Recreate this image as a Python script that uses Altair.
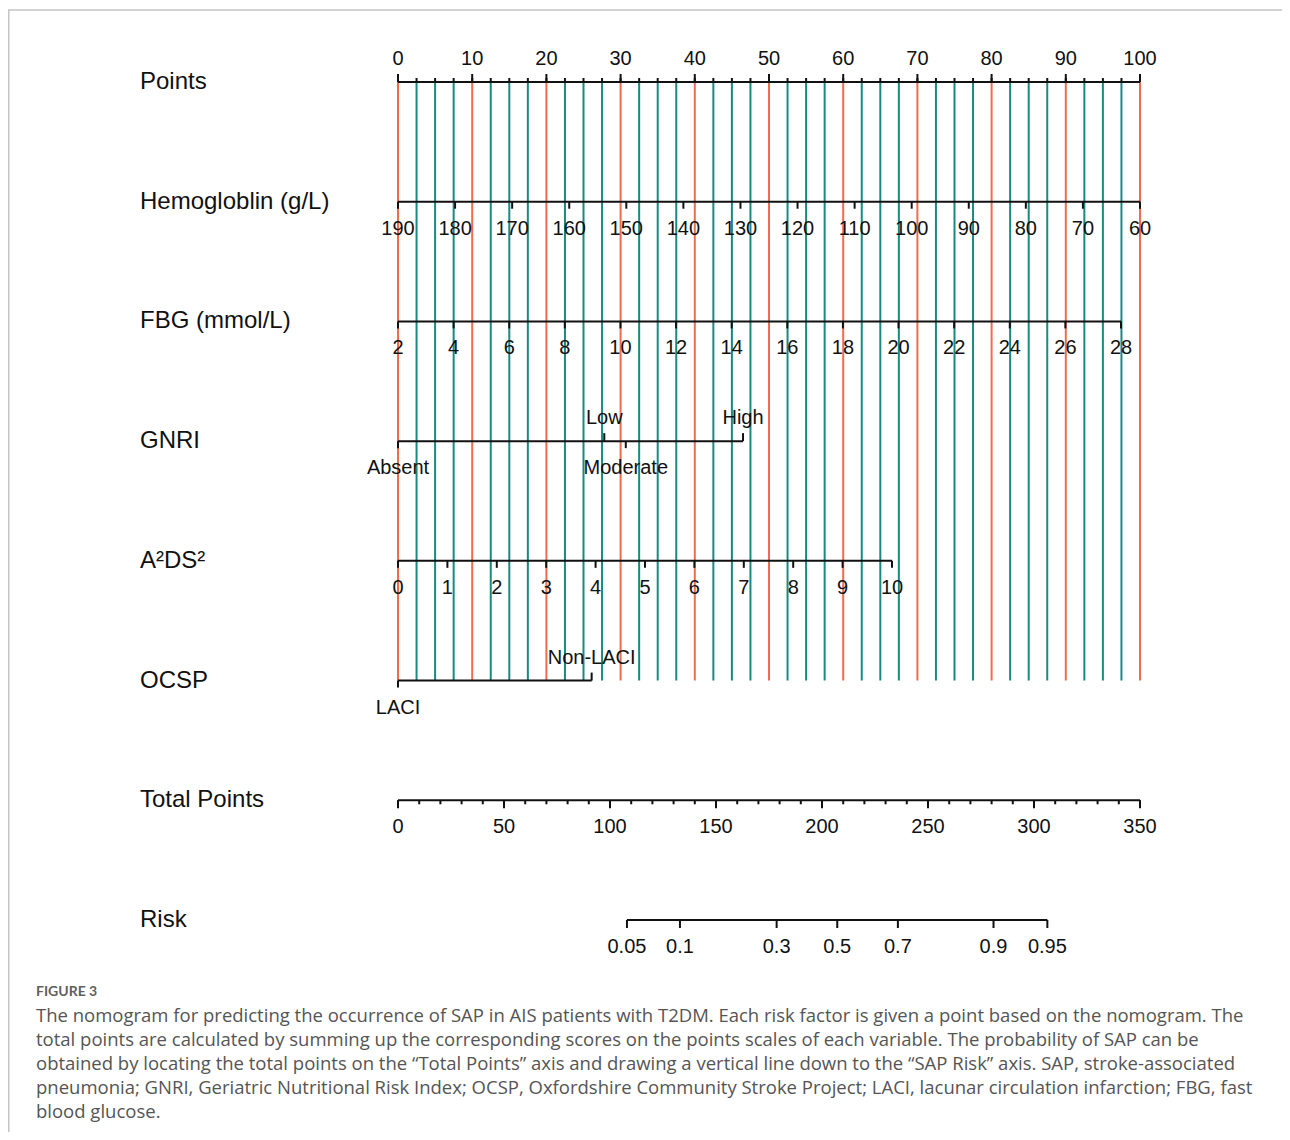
import altair as alt
import pandas as pd

# ---------------- data ----------------
row_names = ["Points", "Hemogloblin (g/L)", "FBG (mmol/L)", "GNRI", "A²DS²", "OCSP", "Total Points", "Risk"]

points_major = [0, 10, 20, 30, 40, 50, 60, 70, 80, 90, 100]
points_minor = [0, 2.5, 5, 7.5, 10, 12.5, 15, 17.5, 20, 22.5, 25, 27.5, 30, 32.5, 35, 37.5,
                40, 42.5, 45, 47.5, 50, 52.5, 55, 57.5, 60, 62.5, 65, 67.5, 70, 72.5, 75, 77.5,
                80, 82.5, 85, 87.5, 90, 92.5, 95, 97.5, 100]

hgb_ticks = [190, 180, 170, 160, 150, 140, 130, 120, 110, 100, 90, 80, 70, 60]
fbg_ticks = [2, 4, 6, 8, 10, 12, 14, 16, 18, 20, 22, 24, 26, 28]
a2ds2_ticks = [0, 1, 2, 3, 4, 5, 6, 7, 8, 9, 10]

gnri_levels = ["Absent", "Low", "Moderate", "High"]
gnri_points = [0, 27.8, 30.7, 46.5]
gnri_side = ["below", "above", "below", "above"]

ocsp_levels = ["LACI", "Non-LACI"]
ocsp_points = [0, 26.1]
ocsp_side = ["below", "above"]

total_major = [0, 50, 100, 150, 200, 250, 300, 350]
total_minor = [0, 10, 20, 30, 40, 50, 60, 70, 80, 90, 100, 110, 120, 130, 140, 150, 160, 170,
               180, 190, 200, 210, 220, 230, 240, 250, 260, 270, 280, 290, 300, 310, 320, 330, 340, 350]

risk_labels = ["0.05", "0.1", "0.3", "0.5", "0.7", "0.9", "0.95"]
risk_total_points = [108, 133, 178.6, 207.2, 235.8, 280.9, 306.3]

caption_head = "FIGURE 3"
caption_lines = [
    "The nomogram for predicting the occurrence of SAP in AIS patients with T2DM. Each risk factor is given a point based on the nomogram. The",
    "total points are calculated by summing up the corresponding scores on the points scales of each variable. The probability of SAP can be",
    "obtained by locating the total points on the \u201cTotal Points\u201d axis and drawing a vertical line down to the \u201cSAP Risk\u201d axis. SAP, stroke-associated",
    "pneumonia; GNRI, Geriatric Nutritional Risk Index; OCSP, Oxfordshire Community Stroke Project; LACI, lacunar circulation infarction; FBG, fast",
    "blood glucose.",
]

# ---------------- styling ----------------
W, H = 1274, 1124
X0 = 390
FONT = "Liberation Sans"
RED = "#F26B4F"
TEAL = "#188A80"
INK = "#111111"
TICK_SIZE = 20

yscale = alt.Scale(domain=[0, 7], range=[74, 912], nice=False, zero=False)


def Y():
    return alt.Y("row:Q", scale=yscale, axis=None)


def X(field, dom, end):
    return alt.X(f"{field}:Q", scale=alt.Scale(domain=dom, range=[X0, end], nice=False, zero=False), axis=None)


def axis_line(row, start, stop, dom, end):
    df = pd.DataFrame({"row": [row], "a": [start], "b": [stop]})
    return alt.Chart(df).mark_rule(color=INK, strokeWidth=2).encode(
        x=X("a", dom, end), x2="b:Q", y=Y())


def ticks(row, vals, dom, end, length):
    df = pd.DataFrame({"row": [row] * len(vals), "v": vals})
    return alt.Chart(df).mark_rule(color=INK, strokeWidth=2, y2Offset=length).encode(
        x=X("v", dom, end), y=Y(), y2="row:Q")


def labels(row, vals, texts, dom, end, side):
    df = pd.DataFrame({"row": [row] * len(vals), "v": vals, "t": texts})
    dy = -17 if side == "above" else 33
    return alt.Chart(df).mark_text(font=FONT, fontSize=TICK_SIZE, color=INK, align="center",
                                   baseline="alphabetic", dy=dy).encode(
        x=X("v", dom, end), y=Y(), text="t:N")


layers = []

# vertical reference lines
vdf = pd.DataFrame({"v": points_minor,
                    "kind": ["major" if v in points_major else "minor" for v in points_minor],
                    "row": [0] * len(points_minor), "row2": [5] * len(points_minor)})
layers.append(alt.Chart(vdf).mark_rule(strokeWidth=2).encode(
    x=X("v", [0, 100], 1132), y=Y(), y2="row2:Q",
    color=alt.Color("kind:N", scale=alt.Scale(domain=["major", "minor"], range=[RED, TEAL]), legend=None)))

# Points row
P = ([0, 100], 1132)
layers += [axis_line(0, 0, 100, *P),
           ticks(0, points_minor, *P, -4),
           ticks(0, points_major, *P, -8),
           labels(0, points_major, [str(v) for v in points_major], *P, "above")]

# Hemoglobin
HG = ([190, 60], 1132)
layers += [axis_line(1, 190, 60, *HG),
           ticks(1, hgb_ticks, *HG, 7),
           labels(1, hgb_ticks, [str(v) for v in hgb_ticks], *HG, "below")]

# FBG
FB = ([2, 28], 1113)
layers += [axis_line(2, 2, 28, *FB),
           ticks(2, fbg_ticks, *FB, 7),
           labels(2, fbg_ticks, [str(v) for v in fbg_ticks], *FB, "below")]

# GNRI
layers.append(axis_line(3, gnri_points[0], gnri_points[-1], *P))
for side in ["above", "below"]:
    vals = [p for p, s in zip(gnri_points, gnri_side) if s == side]
    txt = [n for n, s in zip(gnri_levels, gnri_side) if s == side]
    layers += [ticks(3, vals, *P, -8 if side == "above" else 7),
               labels(3, vals, txt, *P, side)]

# A2DS2
A2 = ([0, 10], 884)
layers += [axis_line(4, 0, 10, *A2),
           ticks(4, a2ds2_ticks, *A2, 7),
           labels(4, a2ds2_ticks, [str(v) for v in a2ds2_ticks], *A2, "below")]

# OCSP
layers.append(axis_line(5, ocsp_points[0], ocsp_points[-1], *P))
for side in ["above", "below"]:
    vals = [p for p, s in zip(ocsp_points, ocsp_side) if s == side]
    txt = [n for n, s in zip(ocsp_levels, ocsp_side) if s == side]
    layers += [ticks(5, vals, *P, -8 if side == "above" else 7),
               labels(5, vals, txt, *P, side)]

# Total points
T = ([0, 350], 1132)
layers += [axis_line(6, 0, 350, *T),
           ticks(6, total_minor, *T, 4),
           ticks(6, total_major, *T, 8),
           labels(6, total_major, [str(v) for v in total_major], *T, "below")]

# Risk
layers += [axis_line(7, risk_total_points[0], risk_total_points[-1], *T),
           ticks(7, risk_total_points, *T, 8),
           labels(7, risk_total_points, risk_labels, *T, "below")]

# row names
ndf = pd.DataFrame({"row": list(range(len(row_names))), "name": row_names})
layers.append(alt.Chart(ndf).mark_text(font=FONT, fontSize=24, color=INK, align="left",
                                       baseline="middle").encode(
    x=alt.value(132), y=Y(), text="name:N"))

# frame lines
one = pd.DataFrame({"k": [0]})
layers.append(alt.Chart(one).mark_rule(color="#c4c4c4", strokeWidth=1.5).encode(
    x=alt.value(0), x2=alt.value(W), y=alt.value(2)))
layers.append(alt.Chart(one).mark_rule(color="#c4c4c4", strokeWidth=1.5).encode(
    x=alt.value(0.75), y=alt.value(2), y2=alt.value(H)))

# caption
layers.append(alt.Chart(one).mark_text(font="Lato", fontSize=14, fontWeight="bold", color="#5f5f5f",
                                       align="left", baseline="alphabetic").encode(
    x=alt.value(28), y=alt.value(988), text=alt.value(caption_head)))
for i, line in enumerate(caption_lines):
    layers.append(alt.Chart(one).mark_text(font="Open Sans", fontSize=18.5, color="#555555",
                                           align="left", baseline="alphabetic").encode(
        x=alt.value(28), y=alt.value(1014 + 24 * i), text=alt.value(line)))

chart = alt.layer(*layers).resolve_scale(x="independent").properties(
    width=W, height=H, autosize=alt.AutoSizeParams(type="none"), padding=0
).configure_view(stroke=None)

chart.save("out.html", embed_options={"renderer": "svg", "actions": False})
